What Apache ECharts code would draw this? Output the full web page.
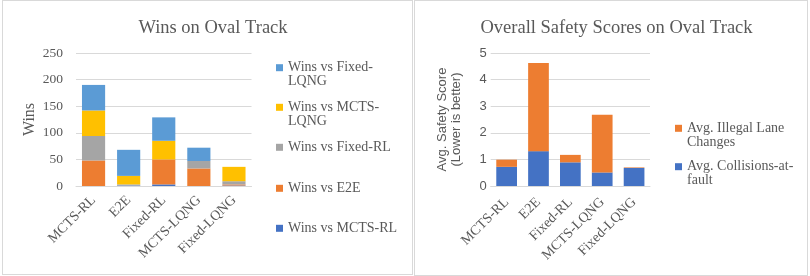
<!DOCTYPE html>
<html>
<head>
<meta charset="utf-8">
<script src="https://cdn.jsdelivr.net/npm/echarts@6/dist/echarts.min.js"></script>
<style>
  html, body { margin:0; padding:0; background:#fff; }
  body { width:810px; height:276px; position:relative; overflow:hidden; }
  .panel { position:absolute; box-sizing:border-box; border:1px solid #d9d9d9; }
  #chart { position:absolute; left:0; top:0; width:810px; height:276px; }
</style>
</head>
<body>
<div class="panel" style="left:2px;top:0;width:411px;height:275px;"></div>
<div class="panel" style="left:414px;top:0;width:394px;height:276px;"></div>
<div id="chart"></div>
<script>
// ---- data ----
const categories = ['MCTS-RL', 'E2E', 'Fixed-RL', 'MCTS-LQNG', 'Fixed-LQNG'];

const winsVsMCTSRL    = [0, 1, 3, 0, 1];
const winsVsE2E       = [48, 0, 47, 33, 2];
const winsVsFixedRL   = [46, 2, 0, 14, 6];
const winsVsMCTSLQNG  = [48, 16, 35, 0, 27];
const winsVsFixedLQNG = [48, 49, 44, 25, 0];

const winsSeriesNames = ['Wins vs MCTS-RL', 'Wins vs E2E', 'Wins vs Fixed-RL', 'Wins vs MCTS-LQNG', 'Wins vs Fixed-LQNG'];
const winsLegendText  = ['Wins vs MCTS-RL', 'Wins vs E2E', 'Wins vs Fixed-RL', 'Wins vs MCTS-\nLQNG', 'Wins vs Fixed-\nLQNG'];
const winsTicks = [0, 50, 100, 150, 200, 250];

const avgCollisions = [0.72, 1.31, 0.89, 0.51, 0.68];
const avgIllegal    = [0.27, 3.31, 0.28, 2.17, 0.02];
const safetyNames      = ['Avg. Collisions-at-fault', 'Avg. Illegal Lane Changes'];
const safetyLegendText = ['Avg. Collisions-at-\nfault', 'Avg. Illegal Lane\nChanges'];
const safetyTicks = [0, 1, 2, 3, 4, 5];

// ---- styles ----
const SERIF = '"Liberation Serif", "Times New Roman", serif';
const SANS = '"Liberation Sans", Arial, sans-serif';
const TXT = '#595959';
const GRID = '#d9d9d9';
const winsColors = ['#4472C4', '#ED7D31', '#A5A5A5', '#FFC000', '#5B9BD5'];
const safetyColors = ['#4472C4', '#ED7D31'];

const winsData = [winsVsMCTSRL, winsVsE2E, winsVsFixedRL, winsVsMCTSLQNG, winsVsFixedLQNG];
const safetyData = [avgCollisions, avgIllegal];

const chart = echarts.init(document.getElementById('chart'), null, {renderer: 'canvas'});

function xAxisCfg(gridIndex, margin) {
  return {
    type: 'category', gridIndex, data: categories,
    axisTick: {show: false},
    axisLine: {show: true, lineStyle: {color: GRID, width: 1}},
    axisLabel: {rotate: 45, margin: margin, fontFamily: SERIF, fontSize: 14, color: TXT, interval: 0}
  };
}

// legend icon centers
const winsLegendCenters = [228.3, 188.3, 147.3, 107.3, 67.7];
const safetyLegendCenters = [166.7, 128.3];

// two-line legend entries get a leading blank line so the first text line sits at the icon
function legendLabel(t) { return t.indexOf('\n') >= 0 ? ' \n' + t : t; }

const legends = [];
winsSeriesNames.forEach((n, i) => {
  const two = winsLegendText[i].indexOf('\n') >= 0;
  legends.push({
    left: 276, top: winsLegendCenters[i] - (two ? 21 : 7), padding: 0, orient: 'vertical',
    itemWidth: 7, itemHeight: 7, icon: 'rect',
    data: [n],
    formatter: () => legendLabel(winsLegendText[i]),
    textStyle: {fontFamily: SERIF, fontSize: 14, lineHeight: 14, color: TXT}
  });
});
safetyNames.forEach((n, i) => {
  legends.push({
    left: 675, top: safetyLegendCenters[i] - 21, padding: 0, orient: 'vertical',
    itemWidth: 7, itemHeight: 7, icon: 'rect',
    data: [n],
    formatter: () => legendLabel(safetyLegendText[i]),
    textStyle: {fontFamily: SERIF, fontSize: 14, lineHeight: 14, color: TXT}
  });
});

const series = [];
winsSeriesNames.forEach((n, i) => {
  series.push({
    name: n, type: 'bar', stack: 'wins', xAxisIndex: 0, yAxisIndex: 0,
    data: winsData[i], barCategoryGap: '34%',
    itemStyle: {color: winsColors[i]}
  });
});
safetyNames.forEach((n, i) => {
  series.push({
    name: n, type: 'bar', stack: 'safety', xAxisIndex: 1, yAxisIndex: 1,
    data: safetyData[i], barCategoryGap: '35%',
    itemStyle: {color: safetyColors[i]}
  });
});

chart.setOption({
  animation: false,
  title: [
    {text: 'Wins on Oval Track', left: 208, top: 12, textAlign: 'center',
     textStyle: {fontFamily: SERIF, fontSize: 18.5, fontWeight: 'normal', color: TXT, lineHeight: 22}},
    {text: 'Overall Safety Scores on Oval Track', left: 611.5, top: 12, textAlign: 'center',
     textStyle: {fontFamily: SERIF, fontSize: 18.5, fontWeight: 'normal', color: TXT, lineHeight: 22}}
  ],
  legend: legends,
  grid: [
    {left: 76, top: 53, width: 175.5, height: 133, containLabel: false},
    {left: 490.7, top: 53, width: 159.3, height: 133, containLabel: false}
  ],
  xAxis: [xAxisCfg(0, 12), xAxisCfg(1, 14)],
  yAxis: [
    {type: 'value', gridIndex: 0, min: winsTicks[0], max: winsTicks[winsTicks.length - 1], interval: winsTicks[1] - winsTicks[0],
     name: 'Wins', nameLocation: 'middle', nameGap: 38, nameRotate: 90,
     nameTextStyle: {fontFamily: SERIF, fontSize: 16, color: TXT},
     axisLine: {show: false}, axisTick: {show: false},
     axisLabel: {fontFamily: SERIF, fontSize: 13.5, color: TXT, margin: 13},
     splitLine: {lineStyle: {color: GRID, width: 1}}},
    {type: 'value', gridIndex: 1, min: safetyTicks[0], max: safetyTicks[safetyTicks.length - 1], interval: safetyTicks[1] - safetyTicks[0],
     name: 'Avg. Safety Score\n(Lower is better)', nameLocation: 'middle', nameGap: 27, nameRotate: 90,
     nameTextStyle: {fontFamily: SANS, fontSize: 13, lineHeight: 14, color: TXT},
     axisLine: {show: false}, axisTick: {show: false},
     axisLabel: {fontFamily: SANS, fontSize: 13, color: TXT, margin: 4},
     splitLine: {lineStyle: {color: GRID, width: 1}}}
  ],
  series
});
</script>
</body>
</html>
